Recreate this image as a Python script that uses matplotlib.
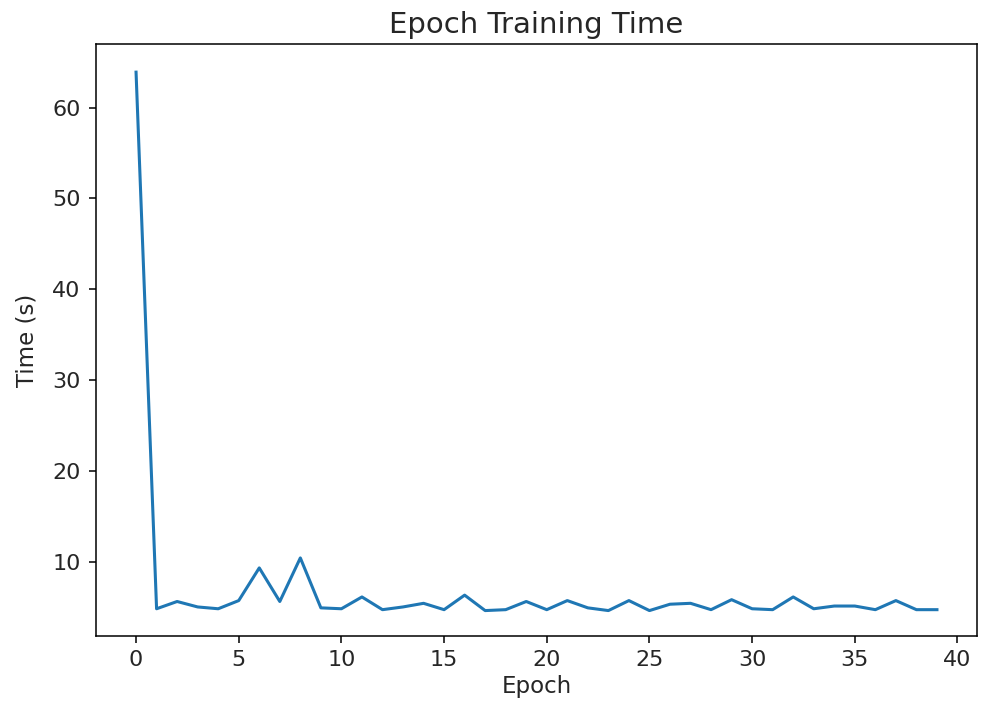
import matplotlib
matplotlib.use("Agg")
import matplotlib.pyplot as plt
import numpy as np

epochs = list(range(40))
times = [63.9, 4.8, 5.6, 5.0, 4.8, 5.7, 9.3, 5.6, 10.4, 4.9,
         4.8, 6.1, 4.7, 5.0, 5.4, 4.7, 6.3, 4.6, 4.7, 5.6,
         4.7, 5.7, 4.9, 4.6, 5.7, 4.6, 5.3, 5.4, 4.7, 5.8,
         4.8, 4.7, 6.1, 4.8, 5.1, 5.1, 4.7, 5.7, 4.7, 4.7]
xticks = [0, 5, 10, 15, 20, 25, 30, 35, 40]
yticks = [10, 20, 30, 40, 50, 60]

plt.rcParams['font.family'] = ['DejaVu Sans']
fig = plt.figure(figsize=(9.82, 7.1), dpi=100)
ax = fig.add_axes([96/982, 1-636/710, (977-96)/982, (636-44)/710])
ax.plot(epochs, times, color='#1f77b4', linewidth=2.2)
ax.set_xticks(xticks)
ax.set_yticks(yticks)
ax.set_xlim(-1.95, 40.95)
ax.set_ylim(1.8, 67.0)
ax.tick_params(labelsize=16, length=5, width=1.1, pad=5, labelcolor='#262626')
ax.tick_params(axis='y', pad=6)
for s in ax.spines.values():
    s.set_linewidth(1.1)
ax.set_title('Epoch Training Time', fontsize=21, pad=8, color='#262626')
ax.set_xlabel('Epoch', fontsize=16.5, labelpad=4, color='#262626')
ax.set_ylabel('Time (s)', fontsize=16.5, labelpad=10, color='#262626')
fig.savefig('out.png', dpi=100)
